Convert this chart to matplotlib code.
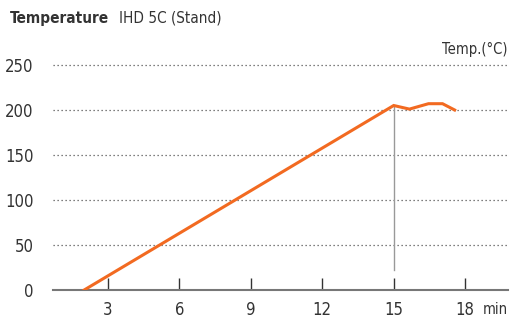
import matplotlib
matplotlib.use("Agg")
import matplotlib.pyplot as plt

# Temperature curve (minutes, degrees C)
minutes = [2, 15, 15.66, 16.46, 17.05, 17.56]
temps = [0, 205, 201, 207, 207, 200]

x_ticks = [3, 6, 9, 12, 15, 18]
y_ticks = [0, 50, 100, 150, 200, 250]

# marker line at 15 min
marker_x = 15
marker_y = (22, 205)

plt.rcParams["font.family"] = ["DejaVu Sans Condensed", "Liberation Sans Narrow", "DejaVu Sans"]
plt.rcParams["font.stretch"] = "condensed"
text_color = "#333333"

fig = plt.figure(figsize=(5.13, 3.2), dpi=100)
ax = fig.add_axes([53 / 513, 30 / 320, 455 / 513, 225 / 320])

ax.plot(minutes, temps, color="#f26a21", linewidth=2.2, solid_joinstyle="miter", zorder=3)
ax.plot([marker_x, marker_x], marker_y, color="#999999", linewidth=1, zorder=2)

ax.set_xlim(0.69, 19.8)
ax.set_ylim(0, 250)

for y in y_ticks[1:]:
    ax.axhline(y, color="#555555", linewidth=0.9, linestyle=(0, (1, 2.2)), zorder=1, clip_on=False)

for s in ["top", "right", "left"]:
    ax.spines[s].set_visible(False)
ax.spines["bottom"].set_color("#777777")
ax.spines["bottom"].set_linewidth(1.5)

ax.set_xticks(x_ticks)
ax.set_yticks(y_ticks)
ax.tick_params(axis="x", direction="in", length=9, width=1, color="#333333",
               pad=8, labelsize=12, labelcolor=text_color)
ax.tick_params(axis="y", length=0, pad=14, labelsize=12, labelcolor=text_color)

title = fig.text(10 / 513, 1 - 18 / 320, "Temperature", fontsize=11, fontweight="bold",
                 color=text_color, va="center")
fig.canvas.draw()
# place subtitle just right of the bold title
bb = title.get_window_extent()
fig.text((bb.x1 + 10) / fig.bbox.width, 1 - 18 / 320, "IHD 5C (Stand)", fontsize=11,
         color=text_color, va="center")
fig.text(508 / 513, 1 - 49 / 320, "Temp.(°C)", fontsize=10.5, color=text_color,
         ha="right", va="center")
fig.text(508 / 513, 1 - 310 / 320, "min", fontsize=10.5, color=text_color,
         ha="right", va="center")

fig.savefig("out.png", dpi=100)
